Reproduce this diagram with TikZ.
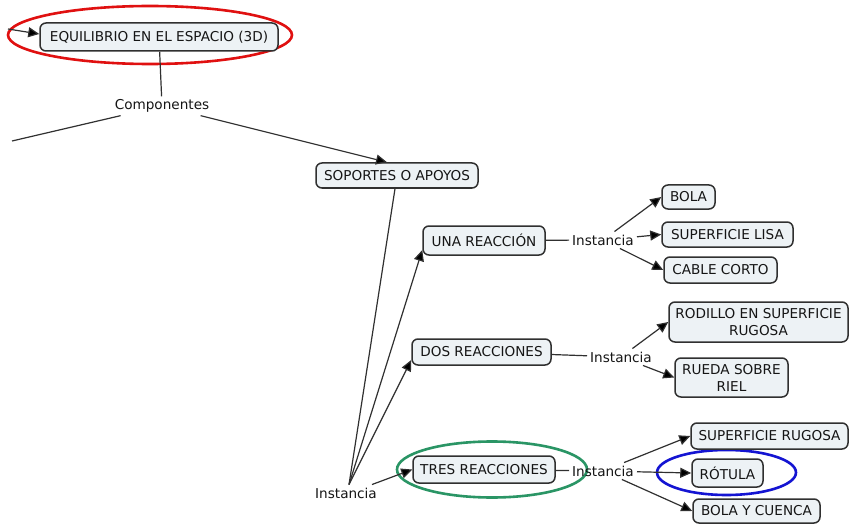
\documentclass[tikz,border=0pt]{standalone}
\usepackage{fontspec}
\setmainfont{DejaVu Sans}
\usetikzlibrary{arrows.meta}
\definecolor{boxfill}{HTML}{EDF2F5}
\definecolor{boxline}{HTML}{303030}
\definecolor{ink}{HTML}{151515}
\definecolor{ringred}{HTML}{E01010}
\definecolor{ringgreen}{HTML}{2A9565}
\definecolor{ringblue}{HTML}{1414D2}
\tikzset{
  concept/.style={draw=boxline, line width=1.5pt, fill=boxfill, rounded corners=6pt,
    text=ink, align=center, inner xsep=3pt, inner ysep=2pt,
    font=\fontsize{13.6}{17}\selectfont},
  linkword/.style={text=ink, inner sep=3pt, font=\fontsize{13.6}{17}\selectfont},
  link/.style={draw=boxline, line width=1.2pt},
  linkarrow/.style={link, -{Triangle[length=11pt,width=10pt,fill=black]}},
  ring/.style={line width=2.6pt}
}
\begin{document}
\begin{tikzpicture}[x=1pt,y=-1pt]
\useasboundingbox (0,0) rectangle (849,524);
\fill[white] (0,0) rectangle (849,524);

% highlight rings
\draw[ring, ringred] (150,35) ellipse [x radius=142, y radius=29];
\draw[ring, ringgreen] (492,469.5) ellipse [x radius=95, y radius=28];
\draw[ring, ringblue] (726.5,472.5) ellipse [x radius=69.5, y radius=22.5];

% concepts
\node[concept, minimum width=238pt, minimum height=28pt] (eq) at (159,37) {EQUILIBRIO EN EL ESPACIO (3D)};
\node[concept, minimum width=162pt, minimum height=25pt] (sop) at (397,175.5) {SOPORTES O APOYOS};
\node[concept, minimum width=122pt, minimum height=29pt] (una) at (484,240.5) {UNA REACCIÓN};
\node[concept, minimum width=139pt, minimum height=26pt] (dos) at (481.5,352) {DOS REACCIONES};
\node[concept, minimum width=142pt, minimum height=27pt] (tres) at (484,469.5) {TRES REACCIONES};
\node[concept, minimum width=53pt, minimum height=24pt] (bola) at (688.5,197) {BOLA};
\node[concept, minimum width=131pt, minimum height=25pt] (slisa) at (727.5,234.5) {SUPERFICIE LISA};
\node[concept, minimum width=113pt, minimum height=26pt] (cable) at (720.5,270) {CABLE CORTO};
\node[concept, minimum width=179pt, minimum height=40pt] (rodillo) at (758.5,322) {RODILLO EN SUPERFICIE\\RUGOSA};
\node[concept, minimum width=113pt, minimum height=39pt] (rueda) at (731.5,377.5) {RUEDA SOBRE\\RIEL};
\node[concept, minimum width=157pt, minimum height=26pt] (srug) at (769.5,436) {SUPERFICIE RUGOSA};
\node[concept, minimum width=71pt, minimum height=28pt] (rotula) at (727.5,473) {RÓTULA};
\node[concept, minimum width=127pt, minimum height=24pt] (bcuenca) at (756.5,511) {BOLA Y CUENCA};

% linking words
\node[linkword] (comp) at (162,106) {Componentes};
\node[linkword] (inst0) at (346,493) {Instancia};
\node[linkword] (inst1) at (603,240) {Instancia};
\node[linkword] (inst2) at (621,357) {Instancia};
\node[linkword] (inst3) at (603,471) {Instancia};

% loose ends
\coordinate (entry) at (8,29);
\coordinate (leftend) at (12,141);

% connectors
\draw[linkarrow] (entry) -- ([yshift=3pt]eq.west);
\draw[link] (eq) -- (comp);
\draw[link] (comp) -- (leftend);
\draw[linkarrow] (comp) -- ([xshift=-10pt]sop.north);
\draw[link] ([xshift=-2pt]sop.south) -- ([xshift=3pt]inst0.north);
\draw[linkarrow] ([xshift=3pt]inst0.north) -- ([yshift=-9.5pt]una.west);
\draw[linkarrow] ([xshift=3pt]inst0.north) -- ([yshift=-8pt]dos.west);
\draw[linkarrow] ([xshift=-8pt]inst0.north east) -- (tres.west);

\draw[link] (una) -- (inst1);
\draw[linkarrow] (inst1) -- (bola.west);
\draw[linkarrow] (inst1) -- (slisa.west);
\draw[linkarrow] (inst1) -- (cable.west);

\draw[link] (dos) -- (inst2);
\draw[linkarrow] (inst2) -- (rodillo.west);
\draw[linkarrow] (inst2) -- (rueda.west);

\draw[link] (tres) -- (inst3);
\draw[linkarrow] (inst3) -- (srug.west);
\draw[linkarrow] (inst3) -- (rotula.west);
\draw[linkarrow] (inst3) -- (bcuenca.west);
\end{tikzpicture}
\end{document}
